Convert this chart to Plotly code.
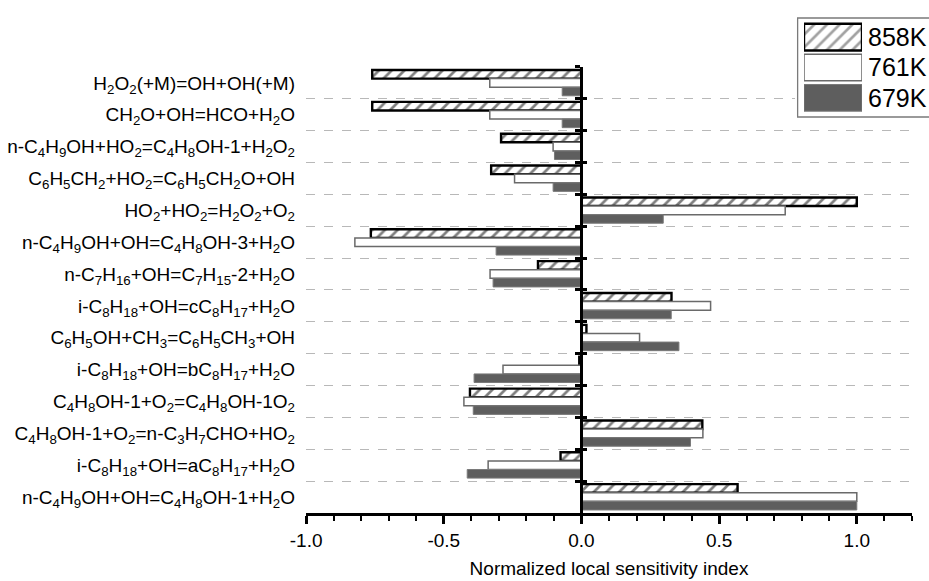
import plotly.graph_objects as go

# Reactions, listed top to bottom
reactions = [
    "H<sub>2</sub>O<sub>2</sub>(+M)=OH+OH(+M)",
    "CH<sub>2</sub>O+OH=HCO+H<sub>2</sub>O",
    "n-C<sub>4</sub>H<sub>9</sub>OH+HO<sub>2</sub>=C<sub>4</sub>H<sub>8</sub>OH-1+H<sub>2</sub>O<sub>2</sub>",
    "C<sub>6</sub>H<sub>5</sub>CH<sub>2</sub>+HO<sub>2</sub>=C<sub>6</sub>H<sub>5</sub>CH<sub>2</sub>O+OH",
    "HO<sub>2</sub>+HO<sub>2</sub>=H<sub>2</sub>O<sub>2</sub>+O<sub>2</sub>",
    "n-C<sub>4</sub>H<sub>9</sub>OH+OH=C<sub>4</sub>H<sub>8</sub>OH-3+H<sub>2</sub>O",
    "n-C<sub>7</sub>H<sub>16</sub>+OH=C<sub>7</sub>H<sub>15</sub>-2+H<sub>2</sub>O",
    "i-C<sub>8</sub>H<sub>18</sub>+OH=cC<sub>8</sub>H<sub>17</sub>+H<sub>2</sub>O",
    "C<sub>6</sub>H<sub>5</sub>OH+CH<sub>3</sub>=C<sub>6</sub>H<sub>5</sub>CH<sub>3</sub>+OH",
    "i-C<sub>8</sub>H<sub>18</sub>+OH=bC<sub>8</sub>H<sub>17</sub>+H<sub>2</sub>O",
    "C<sub>4</sub>H<sub>8</sub>OH-1+O<sub>2</sub>=C<sub>4</sub>H<sub>8</sub>OH-1O<sub>2</sub>",
    "C<sub>4</sub>H<sub>8</sub>OH-1+O<sub>2</sub>=n-C<sub>3</sub>H<sub>7</sub>CHO+HO<sub>2</sub>",
    "i-C<sub>8</sub>H<sub>18</sub>+OH=aC<sub>8</sub>H<sub>17</sub>+H<sub>2</sub>O",
    "n-C<sub>4</sub>H<sub>9</sub>OH+OH=C<sub>4</sub>H<sub>8</sub>OH-1+H<sub>2</sub>O",
]

temperatures = ["858K", "761K", "679K"]

sens_858 = [-0.76, -0.76, -0.292, -0.328, 1.0, -0.765, -0.158, 0.327, 0.018, -0.008, -0.405, 0.439, -0.076, 0.567]
sens_761 = [-0.333, -0.333, -0.103, -0.243, 0.74, -0.823, -0.332, 0.469, 0.211, -0.285, -0.427, 0.441, -0.339, 1.0]
sens_679 = [-0.07, -0.07, -0.098, -0.103, 0.297, -0.31, -0.321, 0.326, 0.354, -0.39, -0.393, 0.396, -0.415, 1.0]

x_tickvals = [-1.0, -0.5, 0.0, 0.5, 1.0]
x_ticktext = ["-1.0", "-0.5", "0.0", "0.5", "1.0"]

FONT = "Liberation Sans, Arial, Helvetica, sans-serif"
DARK = "#5e5e5e"

# bar styles per temperature: fill, hatch, outline colour, outline width
styles = {
    "858K": dict(color="white", shape="/", line="black", width=2.4),
    "761K": dict(color="white", shape="", line="#6a6a6a", width=1.5),
    "679K": dict(color=DARK, shape="", line="#7a7a7a", width=1.0),
}


def pattern(shape):
    return dict(shape=shape, fgcolor="black", bgcolor="white", size=9,
                solidity=0.3, fillmode="overlay")


series = [sens_858, sens_761, sens_679]

fig = go.Figure()
for name, vals in zip(temperatures, series):
    s = styles[name]
    fig.add_trace(go.Bar(
        x=vals, y=reactions, orientation="h", name=name,
        marker=dict(color=s["color"], pattern=pattern(s["shape"]),
                    line=dict(color=s["line"], width=s["width"])),
        showlegend=False, hoverinfo="x+name",
    ))

# invisible helpers so the zero-line tick axes render
for ya in ("y2", "y3"):
    fig.add_trace(go.Scatter(x=[0] * len(reactions), y=reactions, yaxis=ya, mode="markers",
                             marker=dict(opacity=0), showlegend=False, hoverinfo="skip"))

# key frame: a white panel that hides the grid behind the key
fig.add_trace(go.Bar(
    x=[1.3], y=[0.5], base=[0], width=[0.98], orientation="h", xaxis="x2", yaxis="y4",
    marker=dict(color="white", line=dict(color="#7a7a7a", width=1.3)),
    showlegend=False, hoverinfo="skip",
))

# key swatches
fig.add_trace(go.Bar(
    x=[1] * len(temperatures), y=temperatures, orientation="h",
    xaxis="x3", yaxis="y5",
    marker=dict(color=[styles[t]["color"] for t in temperatures],
                pattern=pattern([styles[t]["shape"] for t in temperatures]),
                line=dict(color=[styles[t]["line"] for t in temperatures],
                          width=[styles[t]["width"] for t in temperatures])),
    showlegend=False, hoverinfo="skip", width=0.88,
))

W_PAPER = 929 - 306
ydom = [0, 0.8867]
n = len(reactions)
cat_common = dict(type="category", categoryorder="array", categoryarray=reactions)
zero_pos = 275 / W_PAPER

fig.update_layout(
    width=929, height=581,
    margin=dict(l=306, r=0, t=10, b=68),
    paper_bgcolor="white", plot_bgcolor="white",
    font=dict(family=FONT, size=19, color="black"),
    barmode="group", bargap=0.19, bargroupgap=0,
    showlegend=False,
    xaxis=dict(
        domain=[0, 606 / W_PAPER], range=[-1.0005, 1.2005], anchor="y",
        tickmode="array", tickvals=x_tickvals, ticktext=x_ticktext,
        ticks="outside", ticklen=8, tickwidth=3, tickcolor="black",
        showline=True, linewidth=3, linecolor="black",
        showgrid=False, zeroline=False,
        minor=dict(tickmode="linear", dtick=0.1, tick0=0, ticks="outside", ticklen=5,
                   tickwidth=2, tickcolor="black", showgrid=False),
        tickfont=dict(size=19),
        title=dict(text="Normalized local sensitivity index", font=dict(size=19), standoff=12),
    ),
    yaxis=dict(
        domain=ydom, anchor="x", **cat_common, range=[n - 0.5, -0.499],
        tickson="boundaries", ticks="", showline=False, zeroline=False,
        showgrid=True, gridcolor="#b8b8b8", griddash="dash", gridwidth=1,
        ticklabelstandoff=10, tickfont=dict(size=19),
    ),
    yaxis2=dict(
        domain=ydom, overlaying="y", anchor="free", position=zero_pos,
        **cat_common, range=[n - 0.5, -0.5], tickson="boundaries", ticks="outside",
        ticklen=5, tickwidth=3, tickcolor="black", showticklabels=False,
        showgrid=False, zeroline=False, showline=True, linewidth=3, linecolor="black",
    ),
    yaxis3=dict(
        domain=ydom, overlaying="y", anchor="free", position=zero_pos,
        **cat_common, range=[n - 0.5, -0.5], tickson="boundaries", ticks="inside",
        ticklen=5, tickwidth=3, tickcolor="black", showticklabels=False,
        showgrid=False, zeroline=False, showline=False,
    ),
    xaxis2=dict(domain=[(795 - 306) / W_PAPER, 1.0], range=[-0.02, 1.0], anchor="y4",
                visible=False),
    yaxis4=dict(domain=[(513 - 118) / 503, (513 - 17) / 503], range=[0, 1], anchor="x2",
                visible=False),
    xaxis3=dict(domain=[(804 - 306) / W_PAPER, (862 - 306) / W_PAPER], range=[0, 1],
                anchor="y5", visible=False),
    yaxis5=dict(domain=[(513 - 113) / 503, (513 - 22) / 503], anchor="x3", type="category",
                categoryorder="array", categoryarray=temperatures, range=[2.5, -0.5],
                side="right", ticks="", showline=False, showgrid=False, zeroline=False,
                ticklabelstandoff=5, tickfont=dict(size=25)),
)

fig.write_html("out.html")
